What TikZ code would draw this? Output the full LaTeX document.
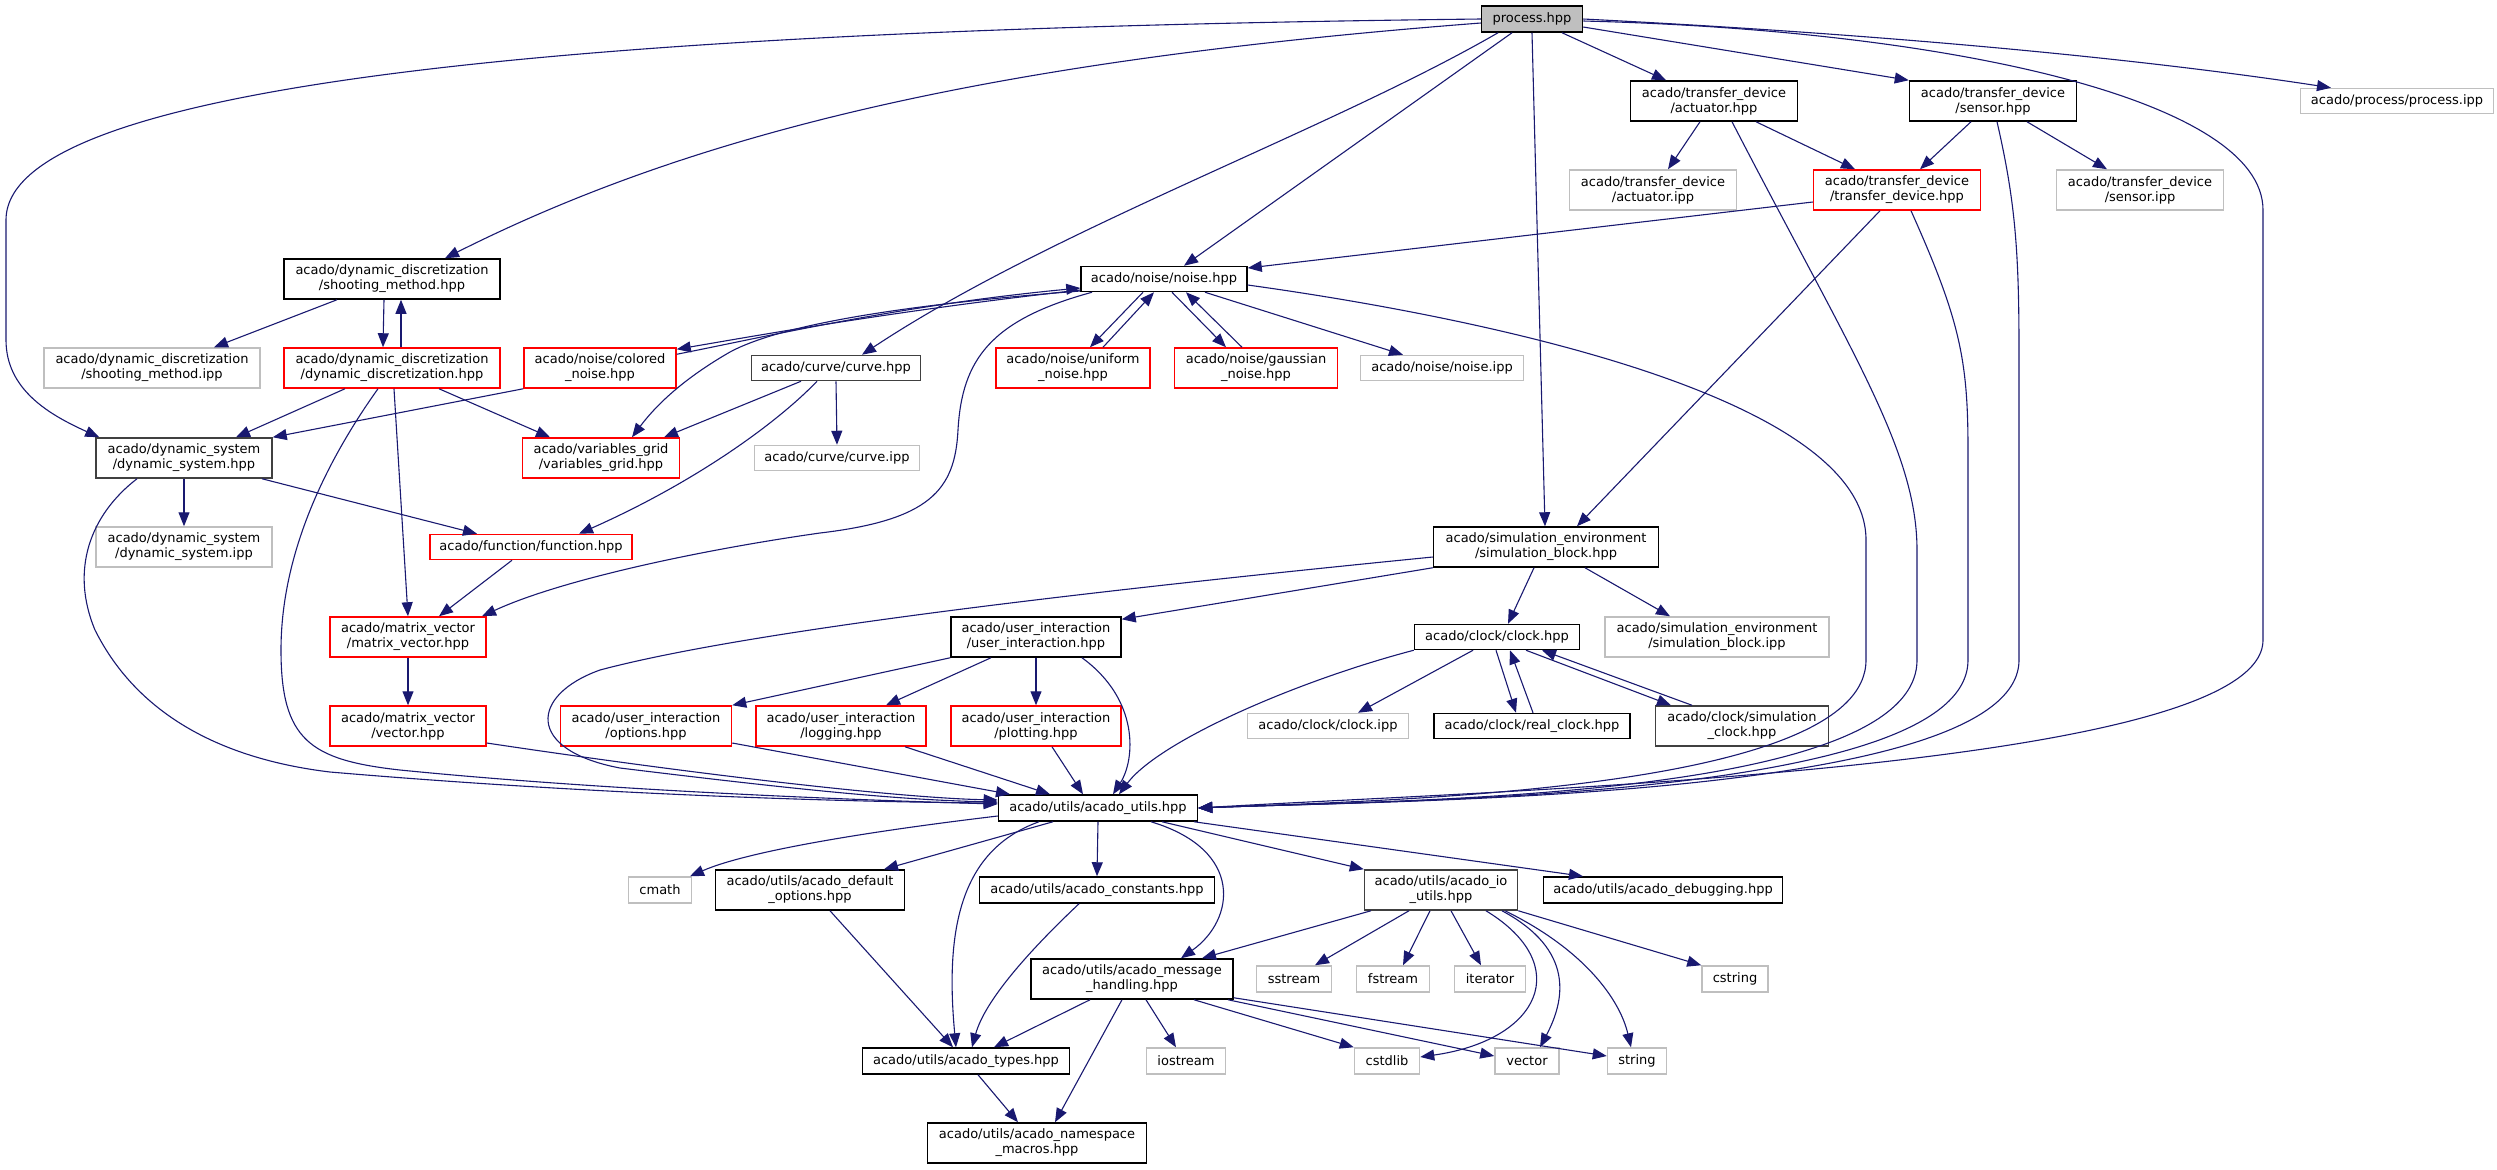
\documentclass[tikz,border=0pt]{standalone}
\usepackage{fontspec}
\setmainfont{DejaVu Sans}
\usetikzlibrary{arrows.meta}
\definecolor{edgec}{HTML}{191970}
\definecolor{grayc}{HTML}{BFBFBF}
\definecolor{redc}{HTML}{FF0000}
\definecolor{dkc}{HTML}{404040}
\begin{document}
\begin{tikzpicture}[x=0.5pt,y=-0.5pt,
  nd/.style={rectangle, font=\fontsize{6.5}{7.5}\selectfont, align=center, inner sep=0pt, line width=0.75pt},
  bk/.style={nd, draw=black},
  dk/.style={nd, draw=dkc},
  rd/.style={nd, draw=redc},
  gy/.style={nd, draw=grayc},
  wh/.style 2 args={minimum width={#1*0.5pt}, minimum height={#2*0.5pt}},
  e/.style={draw=edgec, line width=0.55pt, -{Triangle[length=7pt,width=5.5pt]}}]
\path[use as bounding box] (0,0) rectangle (2497,1169);
% nodes
\node[bk, fill=grayc, wh={101}{26}] (proc) at (1532,19) {process.hpp};
\node[dk, wh={176}{40}] (dsys) at (184,458) {acado/dynamic\_system\\/dynamic\_system.hpp};
\node[bk, wh={216}{40}] (shoot) at (392,279) {acado/dynamic\_discretization\\/shooting\_method.hpp};
\node[bk, wh={166}{25}] (noise) at (1164,279) {acado/noise/noise.hpp};
\node[dk, wh={169}{25}] (curve) at (836,368) {acado/curve/curve.hpp};
\node[bk, wh={225}{40}] (simb) at (1546,547) {acado/simulation\_environment\\/simulation\_block.hpp};
\node[bk, wh={167}{40}] (act) at (1714,101) {acado/transfer\_device\\/actuator.hpp};
\node[bk, wh={167}{40}] (sens) at (1993,101) {acado/transfer\_device\\/sensor.hpp};
\node[gy, wh={193}{25}] (pipp) at (2397,101) {acado/process/process.ipp};
\node[bk, wh={199}{26}] (utils) at (1098,808) {acado/utils/acado\_utils.hpp};
\node[gy, wh={216}{40}] (sipp) at (152,368) {acado/dynamic\_discretization\\/shooting\_method.ipp};
\node[rd, wh={216}{40}] (ddisc) at (392,368) {acado/dynamic\_discretization\\/dynamic\_discretization.hpp};
\node[rd, wh={152}{40}] (cnoise) at (600,368) {acado/noise/colored\\\_noise.hpp};
\node[rd, wh={154}{40}] (unoise) at (1073,368) {acado/noise/uniform\\\_noise.hpp};
\node[rd, wh={163}{40}] (gnoise) at (1256,368) {acado/noise/gaussian\\\_noise.hpp};
\node[gy, wh={163}{25}] (nipp) at (1442,368) {acado/noise/noise.ipp};
\node[gy, wh={167}{40}] (aipp) at (1653,190) {acado/transfer\_device\\/actuator.ipp};
\node[rd, wh={167}{40}] (tdev) at (1897,190) {acado/transfer\_device\\/transfer\_device.hpp};
\node[gy, wh={167}{40}] (seipp) at (2140,190) {acado/transfer\_device\\/sensor.ipp};
\node[rd, wh={157}{40}] (vgrid) at (601,458) {acado/variables\_grid\\/variables\_grid.hpp};
\node[gy, wh={165}{25}] (cipp) at (837,458) {acado/curve/curve.ipp};
\node[gy, wh={176}{40}] (dsipp) at (184,547) {acado/dynamic\_system\\/dynamic\_system.ipp};
\node[rd, wh={202}{25}] (func) at (531,547) {acado/function/function.hpp};
\node[rd, wh={156}{40}] (mvec) at (408,637) {acado/matrix\_vector\\/matrix\_vector.hpp};
\node[rd, wh={156}{40}] (vec) at (408,726) {acado/matrix\_vector\\/vector.hpp};
\node[rd, wh={171}{40}] (opts) at (646,726) {acado/user\_interaction\\/options.hpp};
\node[rd, wh={170}{40}] (logg) at (841,726) {acado/user\_interaction\\/logging.hpp};
\node[bk, wh={170}{40}] (uint) at (1036,637) {acado/user\_interaction\\/user\_interaction.hpp};
\node[rd, wh={170}{40}] (plot) at (1036,726) {acado/user\_interaction\\/plotting.hpp};
\node[bk, wh={165}{25}] (clock) at (1497,637) {acado/clock/clock.hpp};
\node[gy, wh={224}{40}] (sbipp) at (1717,637) {acado/simulation\_environment\\/simulation\_block.ipp};
\node[gy, wh={161}{25}] (cloipp) at (1328,726) {acado/clock/clock.ipp};
\node[bk, wh={196}{25}] (rclock) at (1532,726) {acado/clock/real\_clock.hpp};
\node[dk, wh={173}{40}] (sclock) at (1742,726) {acado/clock/simulation\\\_clock.hpp};
\node[gy, wh={63}{26}] (cmath) at (660,890) {cmath};
\node[bk, wh={189}{40}] (defo) at (810,890) {acado/utils/acado\_default\\\_options.hpp};
\node[bk, wh={235}{26}] (const) at (1097,890) {acado/utils/acado\_constants.hpp};
\node[dk, wh={153}{40}] (io) at (1441,890) {acado/utils/acado\_io\\\_utils.hpp};
\node[bk, wh={239}{26}] (dbg) at (1663,890) {acado/utils/acado\_debugging.hpp};
\node[bk, wh={202}{40}] (msg) at (1132,979) {acado/utils/acado\_message\\\_handling.hpp};
\node[gy, wh={75}{26}] (sstr) at (1294,979) {sstream};
\node[gy, wh={73}{26}] (fstr) at (1393,979) {fstream};
\node[gy, wh={71}{26}] (iter) at (1490,979) {iterator};
\node[gy, wh={66}{26}] (cstr) at (1735,979) {cstring};
\node[bk, wh={207}{26}] (types) at (966,1061) {acado/utils/acado\_types.hpp};
\node[gy, wh={79}{26}] (iostr) at (1186,1061) {iostream};
\node[gy, wh={65}{26}] (cstd) at (1387,1061) {cstdlib};
\node[gy, wh={64}{26}] (vect) at (1527,1061) {vector};
\node[gy, wh={59}{26}] (str) at (1637,1061) {string};
\node[bk, wh={219}{40}] (nsm) at (1037,1143) {acado/utils/acado\_namespace\\\_macros.hpp};
% process edges
\draw[e] (proc.west) .. controls (700,28) and (6,70) .. (6,220) -- (6,340) .. controls (6,390) and (50,415) .. ([xshift=2pt]dsys.north west);
\draw[e] ([yshift=-2pt]proc.west) .. controls (1000,60) and (700,130) .. ([xshift=26.5pt]shoot.north);
\draw[e] ([xshift=-17pt]proc.south) .. controls (1330,130) and (1050,230) .. ([xshift=13pt]curve.north);
\draw[e] ([xshift=-10pt]proc.south) -- ([xshift=10pt]noise.north);
\draw[e] (proc.south) -- ([xshift=-0.5pt]simb.north);
\draw[e] ([xshift=15pt]proc.south) -- ([xshift=-24pt]act.north);
\draw[e] ([yshift=-4pt]proc.east) -- (sens.north west);
\draw[e] (proc.east) .. controls (1900,35) and (2150,60) .. ([xshift=-33pt]pipp.north);
\draw[e] ([yshift=-1pt]proc.east) .. controls (1950,30) and (2263,100) .. (2263,210) -- (2263,640) .. controls (2263,770) and (1500,790) .. (utils.east);
% transfer devices
\draw[e] ([xshift=-7pt]act.south) -- ([xshift=7.5pt]aipp.north);
\draw[e] ([xshift=21pt]act.south) -- ([xshift=-21pt]tdev.north);
\draw[e] ([xshift=9pt]act.south) .. controls (1850,350) and (1917,450) .. (1917,550) -- (1917,660) .. controls (1917,800) and (1400,800) .. (utils.east);
\draw[e] ([xshift=-11pt]sens.south) -- ([xshift=11.5pt]tdev.north);
\draw[e] ([xshift=17pt]sens.south) -- ([xshift=-16.5pt]seipp.north);
\draw[e] ([xshift=2pt]sens.south) .. controls (2015,200) and (2019,250) .. (2019,350) -- (2019,660) .. controls (2019,800) and (1400,800) .. (utils.east);
\draw[e] ([yshift=-6pt]tdev.west) -- ([yshift=5.5pt]noise.east);
\draw[e] ([xshift=-8.5pt]tdev.south) -- ([xshift=15.5pt]simb.north);
\draw[e] ([xshift=7pt]tdev.south) .. controls (1960,320) and (1968,360) .. (1968,450) -- (1968,660) .. controls (1968,800) and (1400,800) .. (utils.east);
% noise
\draw[e] ([xshift=-10.5pt]noise.south) -- ([xshift=8.5pt]unoise.north);
\draw[e] ([xshift=15pt]unoise.north) -- ([xshift=-5pt]noise.south);
\draw[e] ([xshift=4pt]noise.south) -- ([xshift=-15pt]gnoise.north);
\draw[e] ([xshift=-7pt]gnoise.north) -- ([xshift=11pt]noise.south);
\draw[e] ([xshift=20.5pt]noise.south) -- ([xshift=-19.5pt]nipp.north);
\draw[e] ([yshift=-5.5pt]noise.west) .. controls (900,310) and (760,335) .. ([yshift=-1pt]cnoise.north east);
\draw[e] ([yshift=-3.5pt]cnoise.north east) .. controls (760,338) and (900,305) .. ([yshift=-4.5pt]noise.west);
\draw[e] ([yshift=-6pt]noise.west) .. controls (900,305) and (780,325) .. (730,352) .. controls (690,375) and (660,400) .. ([xshift=15.5pt]vgrid.north);
\draw[e] ([xshift=-36pt]noise.south) .. controls (990,320) and (962,360) .. (958,430) .. controls (955,490) and (930,520) .. (820,533) .. controls (700,550) and (560,580) .. ([xshift=37pt]mvec.north);
\draw[e] ([yshift=-3pt]noise.east) .. controls (1500,320) and (1866,400) .. (1866,540) -- (1866,660) .. controls (1866,790) and (1400,800) .. (utils.east);
% shooting / discretization
\draw[e] ([xshift=-27.5pt]shoot.south) -- ([xshift=31pt]sipp.north);
\draw[e] ([xshift=-4pt]shoot.south) -- ([xshift=-4.5pt]ddisc.north);
\draw[e] ([xshift=4.5pt]ddisc.north) -- ([xshift=4.5pt]shoot.south);
\draw[e] ([xshift=-23.5pt]ddisc.south) -- ([xshift=26pt]dsys.north);
\draw[e] ([xshift=23.5pt]ddisc.south) -- ([xshift=-25.5pt]vgrid.north);
\draw[e] ([xshift=1pt]ddisc.south) -- (mvec.north);
\draw[e] ([xshift=-7pt]ddisc.south) .. controls (320,470) and (281,560) .. (281,650) .. controls (281,740) and (310,760) .. (400,770) .. controls (600,790) and (850,800) .. ([yshift=2pt]utils.west);
\draw[e] (cnoise.south west) -- (dsys.north east);
% dynamic system
\draw[e] (dsys.south) -- (dsipp.north);
\draw[e] ([xshift=39pt]dsys.south) -- ([xshift=-27pt]func.north);
\draw[e] ([xshift=-23.5pt]dsys.south) .. controls (90,515) and (70,570) .. (95,630) .. controls (140,720) and (230,760) .. (330,772) .. controls (600,795) and (850,802) .. ([yshift=2.5pt]utils.west);
% curve
\draw[e] ([xshift=-17.5pt]curve.south) -- ([xshift=31.5pt]vgrid.north);
\draw[e] (curve.south) -- (cipp.north);
\draw[e] ([xshift=-9.5pt]curve.south) .. controls (780,420) and (700,480) .. ([xshift=24pt]func.north);
% function / matrix
\draw[e] ([xshift=-9.5pt]func.south) -- ([xshift=15.5pt]mvec.north);
\draw[e] (mvec.south) -- (vec.north);
\draw[e] ([yshift=-8.5pt]vec.east) .. controls (700,775) and (900,798) .. ([yshift=4pt]utils.west);
% simulation block
\draw[e] ([yshift=-5pt]simb.west) .. controls (1100,590) and (750,630) .. (600,670) .. controls (530,695) and (525,750) .. (620,768) .. controls (800,790) and (900,800) .. ([yshift=3pt]utils.west);
\draw[e] (simb.south west) -- ([yshift=-1.5pt]uint.north east);
\draw[e] ([xshift=-6pt]simb.south) -- ([xshift=5.5pt]clock.north);
\draw[e] ([xshift=19.5pt]simb.south) -- ([xshift=-23.5pt]sbipp.north);
% user interaction
\draw[e] (uint.south west) -- (opts.north east);
\draw[e] ([xshift=-22.5pt]uint.south) -- ([xshift=22.5pt]logg.north);
\draw[e] (uint.south) -- (plot.north);
\draw[e] ([xshift=23pt]uint.south) .. controls (1140,700) and (1135,760) .. ([xshift=7.5pt]utils.north);
% clock
\draw[e] (clock.south west) .. controls (1300,680) and (1160,740) .. ([xshift=10.5pt]utils.north);
\draw[e] ([xshift=-12pt]clock.south) -- ([xshift=15pt]cloipp.north);
\draw[e] ([xshift=-0.5pt]clock.south) -- ([xshift=-8pt]rclock.north);
\draw[e] ([xshift=0.5pt]rclock.north) -- ([xshift=6.5pt]clock.south);
\draw[e] ([xshift=14.5pt]clock.south) -- ([xshift=-35.5pt]sclock.north);
\draw[e] ([xshift=-25pt]sclock.north) -- ([xshift=22.5pt]clock.south);
% into utils from top
\draw[e] ([yshift=-8.5pt]opts.east) -- ([xshift=-44pt]utils.north);
\draw[e] ([xshift=32pt]logg.south) -- ([xshift=-24pt]utils.north);
\draw[e] ([xshift=8pt]plot.south) -- ([xshift=-7.5pt]utils.north);
% utils out
\draw[e] ([yshift=-4pt]utils.west) .. controls (880,830) and (750,850) .. ([xshift=15pt]cmath.north);
\draw[e] ([xshift=-22.5pt]utils.south) -- ([xshift=37pt]defo.north);
\draw[e] ([xshift=-29.5pt]utils.south) .. controls (960,850) and (945,930) .. ([xshift=-5pt]types.north);
\draw[e] (utils.south) -- (const.north);
\draw[e] ([xshift=26.5pt]utils.south) .. controls (1245,850) and (1235,920) .. ([xshift=24.5pt]msg.north);
\draw[e] ([xshift=32pt]utils.south) -- (io.north west);
\draw[e] ([xshift=48pt]utils.south) -- ([xshift=-40pt]dbg.north);
\draw[e] ([xshift=10pt]defo.south) -- ([xshift=-6.5pt]types.north);
\draw[e] ([xshift=-9pt]const.south) .. controls (1030,950) and (985,1000) .. ([xshift=3pt]types.north);
\draw[e] ([xshift=-21pt]msg.south) -- ([xshift=14pt]types.north);
\draw[e] ([xshift=-5pt]msg.south) -- ([xshift=9pt]nsm.north);
\draw[e] ([xshift=6pt]types.south) -- ([xshift=-9.5pt]nsm.north);
\draw[e] ([xshift=7pt]msg.south) -- ([xshift=-5pt]iostr.north);
\draw[e] ([xshift=31pt]msg.south) -- (cstd.north west);
\draw[e] ([xshift=48pt]msg.south) -- ([yshift=2.5pt]vect.west);
\draw[e] ([yshift=1pt]msg.south east) -- ([yshift=2.5pt]str.west);
\draw[e] ([xshift=-35pt]io.south) -- ([xshift=35pt]msg.north);
\draw[e] ([xshift=-16pt]io.south) -- ([xshift=10.5pt]sstr.north);
\draw[e] ([xshift=-5.5pt]io.south) -- ([xshift=5pt]fstr.north);
\draw[e] ([xshift=5pt]io.south) -- ([xshift=-4.5pt]iter.north);
\draw[e] ([xshift=22.5pt]io.south) .. controls (1575,965) and (1540,1040) .. ([yshift=2pt]cstd.east);
\draw[e] ([xshift=30.5pt]io.south) .. controls (1575,950) and (1565,1000) .. ([xshift=6.5pt]vect.north);
\draw[e] ([xshift=32pt]io.south) .. controls (1585,950) and (1620,1000) .. ([xshift=-3pt]str.north);
\draw[e] (io.south east) -- (cstr.north west);
\end{tikzpicture}
\end{document}
